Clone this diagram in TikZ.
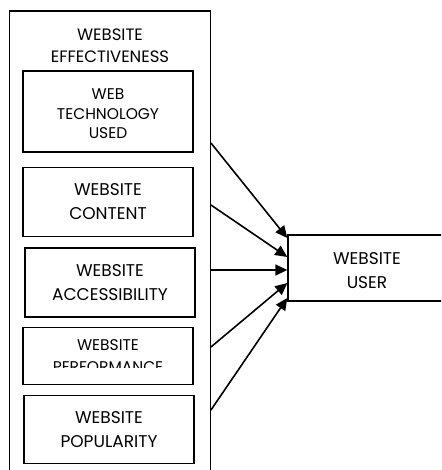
\documentclass[tikz,border=0pt]{standalone}
\usepackage{fontspec}
\setmainfont{Poppins}
\usetikzlibrary{arrows.meta, positioning, calc}

\begin{document}
\begin{tikzpicture}[
    x=1pt, y=-1pt,
    every node/.style={align=center},
    outerbox/.style={rectangle, draw=black, line width=1.4pt, minimum width=201pt, minimum height=469pt, inner sep=0pt},
    factorbox/.style={rectangle, draw=black, line width=1.4pt, minimum width=170pt, inner sep=0pt},
    userbox/.style={rectangle, draw=black, line width=1.4pt, minimum width=162pt, minimum height=66pt, inner sep=0pt},
    bigtext/.style={font=\fontsize{17}{24}\selectfont},
    titletext/.style={font=\fontsize{16.5}{22}\selectfont},
    smalltext/.style={font=\fontsize{15.5}{19.5}\selectfont},
    perftext/.style={font=\fontsize{15.5}{22}\selectfont},
    arrow/.style={-{Triangle[length=12pt, width=11pt]}, line width=1.6pt}
  ]
    \useasboundingbox (0,0) rectangle (441,470);
    \clip (0,0) rectangle (441,470);

    % Outer block: website effectiveness
    \node[outerbox] (outer) at (109.75,245.5) {};
    \node[titletext] (title) at (110,46) {WEBSITE\\EFFECTIVENESS};

    % Factors
    \node[factorbox, minimum height=81pt] (tech) at (108,111.5) {};
    \node[smalltext] (techtext) at (108,114) {WEB\\TECHNOLOGY\\USED};
    \node[factorbox, minimum height=69pt, below=14pt of tech, bigtext] (content) {WEBSITE\\CONTENT};
    \node[factorbox, minimum height=69pt, below=10pt of content, xshift=2pt, bigtext] (access) {WEBSITE\\ACCESSIBILITY};
    \node[factorbox, minimum height=57pt, below=9pt of access, xshift=-2pt] (perf) {};
    % lower line of the label is cut off
    \begin{scope}
      \clip (perf.north west) rectangle (perf.east |- 0,367);
      \node[perftext] (perflabel) at (108,356) {WEBSITE\\PERFORMANCE};
    \end{scope}
    \node[factorbox, minimum height=68pt, below=10pt of perf, xshift=1pt, bigtext] (popular) {WEBSITE\\POPULARITY};

    % Website user
    \node[userbox] (user) at (369,268) {};
    \node[bigtext] (usertext) at (367,270.5) {WEBSITE\\USER};

    % Connections
    \coordinate (s1) at (outer.north east |- 0,143);
    \coordinate (s2) at (outer.north east |- 0,205);
    \coordinate (s3) at (outer.north east |- 0,270);
    \coordinate (s4) at (outer.north east |- 0,347);
    \coordinate (s5) at (outer.north east |- 0,410);

    \draw[arrow] (s1) -- ([yshift=30pt]user.west);
    \draw[arrow] (s2) -- ([yshift=11pt]user.west);
    \draw[arrow] (s3) -- ([yshift=-2pt]user.west);
    \draw[arrow] (s4) -- ([yshift=-15pt]user.west);
    \draw[arrow] (s5) -- ([yshift=-30pt]user.west);
\end{tikzpicture}
\end{document}
